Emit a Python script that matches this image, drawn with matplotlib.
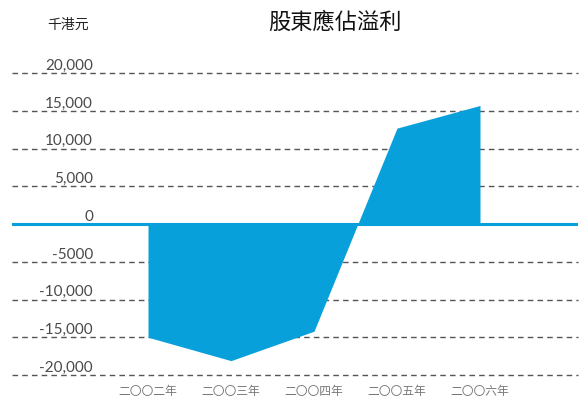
import numpy as np
import matplotlib.pyplot as plt

plt.rcParams['font.family'] = ['Noto Sans CJK TC', 'DejaVu Sans']

# data
years = ['二〇〇二年', '二〇〇三年', '二〇〇四年', '二〇〇五年', '二〇〇六年']
profit = [-15000, -18100, -14200, 12700, 15700]
yticks = [20000, 15000, 10000, 5000, 0, -5000, -10000, -15000, -20000]
ylabels = ['20,000', '15,000', '10,000', '5,000', '0', '-5000',
           '-10,000', '-15,000', '-20,000']

blue = '#08a0da'
W, H = 583, 410

fig = plt.figure(figsize=(W / 100, H / 100), dpi=100)
# plot area spans gridlines: x 12..578 px, y 74..376 px
ax = fig.add_axes([12 / W, (H - 376) / H, 566 / W, 302 / H])
ax.set_axis_off()
x = np.arange(len(years))
ax.set_xlim((12 - 148) / 83, (578 - 148) / 83)
ax.set_ylim(-20000, 20000)

# dashed gridlines
for v in yticks:
    if v != 0:
        ax.axhline(v, color='#555555', lw=1, ls=(0, (4, 3)), zorder=1,
                   clip_on=False)

ax.fill_between(x, profit, 0, color=blue, lw=0, zorder=2)
ax.axhline(0, color=blue, lw=2.2, zorder=3)

# y labels sitting above gridlines
for v, lab in zip(yticks, ylabels):
    ax.text(0.143, v + 150, lab, transform=ax.get_yaxis_transform(),
            ha='right', va='bottom', fontsize=11, color='#4a4a4a',
            family=['Lato', 'DejaVu Sans'])

# year labels
for xi, lab in zip(x, years):
    ax.text(xi, -22100, lab, ha='center', va='center', fontsize=8.5,
            color='#777777', fontweight='light', clip_on=False)

fig.text(68 / W, 1 - 25 / H, '千港元', ha='center', va='center',
         fontsize=10, color='#222222')
fig.text(335 / W, 1 - 22 / H, '股東應佔溢利', ha='center', va='center',
         fontsize=16, color='#111111')

fig.savefig('out.png', dpi=100)
